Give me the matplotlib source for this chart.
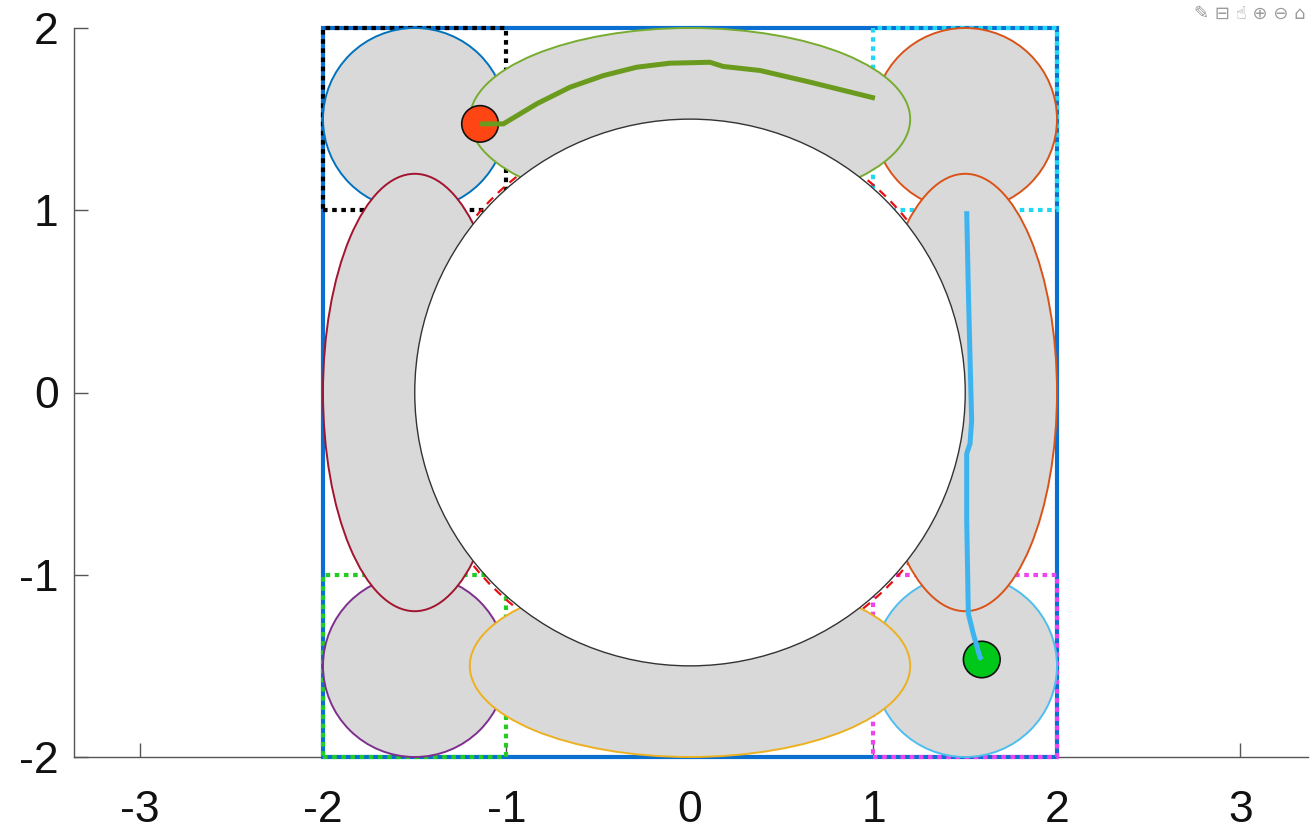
import matplotlib
matplotlib.use("Agg")
import matplotlib.pyplot as plt
from matplotlib.patches import Circle, Ellipse, Rectangle

# workspace
outer_box = [-2, -2, 4, 4]            # x, y, w, h
center_radius = 1.5
edge_radius = 1.515

# corner zones: lower-left corner of each 1x1 square
corner_squares = [(-2, 1), (1, 1), (-2, -2), (1, -2)]
corner_square_colors = ["black", "#1fd8f5", "#22cc22", "#ee44ee"]

# corner circles
corner_centers = [(-1.5, 1.5), (1.5, 1.5), (-1.5, -1.5), (1.5, -1.5)]
corner_r = 0.5
corner_colors = ["#0072BD", "#D95319", "#7E2F8E", "#4DBEEE"]

# side ellipses: center, semi-x, semi-y
ell_centers = [(0, 1.5), (0, -1.5), (-1.5, 0), (1.5, 0)]
ell_semi_x = [1.2, 1.2, 0.5, 0.5]
ell_semi_y = [0.5, 0.5, 1.2, 1.2]
ell_colors = ["#77AC30", "#EDB120", "#A2142F", "#D95319"]

# trajectories
path1_x = [-1.144, -1.017, -0.835, -0.654, -0.472, -0.290, -0.109, 0.109, 0.181, 0.381, 0.654, 1.008]
path1_y = [1.474, 1.474, 1.584, 1.675, 1.739, 1.785, 1.807, 1.812, 1.789, 1.767, 1.703, 1.615]
path2_x = [1.508, 1.517, 1.526, 1.535, 1.526, 1.508, 1.508, 1.517, 1.544, 1.580, 1.590]
path2_y = [0.995, 0.560, 0.194, -0.154, -0.281, -0.336, -0.702, -1.214, -1.324, -1.452, -1.465]

robots_x = [-1.144, 1.590]
robots_y = [1.474, -1.465]
robot_r = 0.1
robot_colors = ["#FF4513", "#00C81A"]

xticks = [-3, -2, -1, 0, 1, 2, 3]
yticks = [-2, -1, 0, 1, 2]

fig = plt.figure(figsize=(13.1, 8.35), dpi=100)
ax = fig.add_axes([74 / 1310, 78 / 835, 1234 / 1310, 729 / 835])

ax.add_patch(Rectangle((outer_box[0], outer_box[1]), outer_box[2], outer_box[3],
                       fill=False, edgecolor="#0a6fd0", lw=3, zorder=2, clip_on=False))

for (x0, y0), c in zip(corner_squares, corner_square_colors):
    ax.add_patch(Rectangle((x0, y0), 1, 1, fill=False, edgecolor=c, lw=3,
                           linestyle=(0, (1.1, 1.1)), zorder=3, clip_on=False))

ax.add_patch(Circle((0, 0), edge_radius, fill=False, edgecolor="#e81010", lw=1.6,
                    linestyle=(0, (4, 3)), zorder=3.5))

for (cx, cy), c in zip(corner_centers, corner_colors):
    ax.add_patch(Circle((cx, cy), corner_r, facecolor="#d9d9d9", edgecolor=c, lw=1.4,
                        zorder=4, clip_on=False))

for (cx, cy), a, b, c in zip(ell_centers, ell_semi_x, ell_semi_y, ell_colors):
    ax.add_patch(Ellipse((cx, cy), 2 * a, 2 * b, facecolor="#d9d9d9", edgecolor=c, lw=1.4,
                         zorder=5, clip_on=False))

ax.add_patch(Circle((0, 0), center_radius, facecolor="white", edgecolor="#333333", lw=1,
                    zorder=6))

for x, y, c in zip(robots_x, robots_y, robot_colors):
    ax.add_patch(Circle((x, y), robot_r, facecolor=c, edgecolor="#111111", lw=1.2, zorder=7))

ax.plot(path1_x, path1_y, color="#6B9B1E", lw=3.6, zorder=8, solid_capstyle="butt",
        solid_joinstyle="round")
ax.plot(path2_x, path2_y, color="#3DB4F0", lw=3.6, zorder=8, solid_capstyle="butt",
        solid_joinstyle="round")

ax.set_xlim(-3.357, 3.368)
ax.set_ylim(-2, 2)
ax.set_xticks(xticks)
ax.set_yticks(yticks)
ax.set_xticklabels([str(t) for t in xticks])
ax.set_yticklabels([str(t) for t in yticks])

for s in ["top", "right"]:
    ax.spines[s].set_visible(False)
for s in ["left", "bottom"]:
    ax.spines[s].set_color("#555555")
    ax.spines[s].set_linewidth(1.0)
    ax.spines[s].set_zorder(1)
ax.set_axisbelow(True)

ax.tick_params(direction="in", length=10, width=1, color="#555555",
               labelsize=32, labelcolor="#111111")
ax.tick_params(axis="x", pad=24)
ax.tick_params(axis="y", pad=11)
for lab in ax.get_xticklabels() + ax.get_yticklabels():
    lab.set_fontfamily("Liberation Sans")

# axes toolbar glyphs
fig.text(0.997, 0.994, "\u270e \u229f \u261d \u2295 \u2296 \u2302", ha="right", va="top",
         fontsize=13, color="#9a9a9a", family="DejaVu Sans")

fig.savefig("out.png", dpi=100)
